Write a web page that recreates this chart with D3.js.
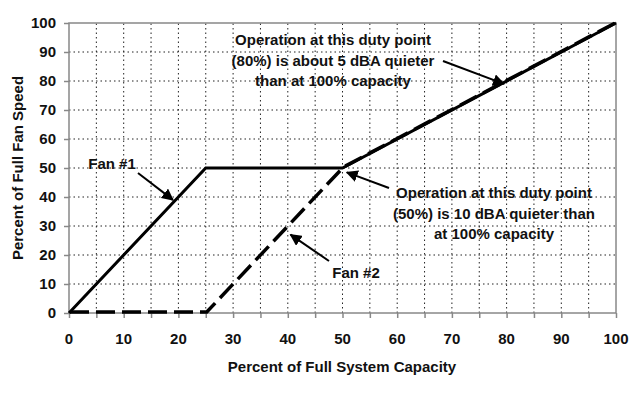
<!DOCTYPE html>
<html>
<head>
<meta charset="utf-8">
<script src="https://d3js.org/d3.v7.min.js"></script>
<style>
body { margin: 0; background: #fff; }
text { font-family: "Liberation Sans", Arial, sans-serif; font-weight: bold; fill: #111; }
.grid line { stroke: #222; stroke-width: 1; stroke-dasharray: 1.5,3; }
.axis path, .axis line { stroke: #888; stroke-width: 1.5; }
</style>
</head>
<body>
<script>
// capacity (%) vs fan speed (%)
var fan1Capacity = [0, 25, 50, 100];
var fan1Speed = [0, 50, 50, 100];
var fan2Capacity = [0, 25, 50, 100];
var fan2Speed = [0, 0, 50, 100];
var xTicks = [0, 10, 20, 30, 40, 50, 60, 70, 80, 90, 100];
var yTicks = [0, 10, 20, 30, 40, 50, 60, 70, 80, 90, 100];

var width = 644, height = 393;
var margin = {left: 69, right: 28, top: 23, bottom: 80};

var svg = d3.select("body").append("svg")
    .attr("width", width)
    .attr("height", height);

var x = d3.scaleLinear().domain([0, 100]).range([margin.left, width - margin.right]);
var y = d3.scaleLinear().domain([0, 100]).range([height - margin.bottom, margin.top]);

// grid
var grid = svg.append("g").attr("class", "grid");
grid.selectAll(".v")
    .data(d3.range(5, 100, 5))
  .enter().append("line")
    .attr("x1", function(d) { return x(d); })
    .attr("x2", function(d) { return x(d); })
    .attr("y1", y(0))
    .attr("y2", y(100));
grid.selectAll(".h")
    .data(yTicks.slice(1, -1))
  .enter().append("line")
    .attr("x1", x(0))
    .attr("x2", x(100))
    .attr("y1", function(d) { return y(d); })
    .attr("y2", function(d) { return y(d); });

// frame
svg.append("rect")
    .attr("x", x(0)).attr("y", y(100))
    .attr("width", x(100) - x(0)).attr("height", y(0) - y(100))
    .attr("fill", "none").attr("stroke", "#888").attr("stroke-width", 1.5);

// axes
svg.append("g")
    .attr("class", "axis")
    .attr("transform", "translate(0," + y(0) + ")")
    .call(d3.axisBottom(x).tickValues(d3.range(0, 101, 5)).tickSize(5).tickFormat(""))
    .call(function(g) { g.select(".domain").remove(); });

svg.append("g")
    .attr("class", "axis")
    .attr("transform", "translate(" + x(0) + ",0)")
    .call(d3.axisLeft(y).tickValues(yTicks).tickSize(5).tickFormat(""))
    .call(function(g) { g.select(".domain").remove(); });

svg.selectAll(".xl")
    .data(xTicks)
  .enter().append("text")
    .attr("x", function(d) { return x(d); })
    .attr("y", 344)
    .attr("text-anchor", "middle")
    .style("font-size", "15px")
    .text(function(d) { return d; });

svg.selectAll(".yl")
    .data(yTicks)
  .enter().append("text")
    .attr("x", 56)
    .attr("y", function(d) { return y(d) + 5; })
    .attr("text-anchor", "end")
    .style("font-size", "15px")
    .text(function(d) { return d; });

svg.append("text")
    .attr("x", 342).attr("y", 372)
    .attr("text-anchor", "middle")
    .style("font-size", "15px")
    .text("Percent of Full System Capacity");

svg.append("text")
    .attr("transform", "translate(23," + ((y(0) + y(100)) / 2) + ") rotate(-90)")
    .attr("text-anchor", "middle")
    .style("font-size", "15px")
    .text("Percent of Full Fan Speed");

// lines
var line = d3.line()
    .x(function(d) { return x(d[0]); })
    .y(function(d) { return y(d[1]); });

svg.append("path")
    .attr("d", line(d3.zip(fan1Capacity, fan1Speed)))
    .attr("fill", "none").attr("stroke", "#000").attr("stroke-width", 3);

svg.append("path")
    .attr("d", line(d3.zip(fan2Capacity, fan2Speed)))
    .attr("fill", "none").attr("stroke", "#000").attr("stroke-width", 3.5)
    .attr("stroke-dasharray", "19,7")
    .attr("transform", "translate(1,-1)");

// annotations
svg.append("defs").append("marker")
    .attr("id", "arrow")
    .attr("viewBox", "0 0 10 10")
    .attr("refX", 9).attr("refY", 5)
    .attr("markerWidth", 6).attr("markerHeight", 6)
    .attr("markerUnits", "strokeWidth")
    .attr("orient", "auto")
  .append("path")
    .attr("d", "M0,0 L10,5 L0,10 z")
    .attr("fill", "#000");

function arrow(x1, y1, x2, y2) {
  svg.append("line")
      .attr("x1", x1).attr("y1", y1).attr("x2", x2).attr("y2", y2)
      .attr("stroke", "#000").attr("stroke-width", 2)
      .attr("marker-end", "url(#arrow)");
}

function label(cx, by, lines) {
  lines.forEach(function(s, i) {
    svg.append("text")
        .attr("x", cx).attr("y", by + i * 20.5)
        .attr("text-anchor", "middle")
        .style("font-size", "15px")
        .text(s);
  });
}

label(112, 169, ["Fan #1"]);
arrow(138, 173, x(19), y(39));

label(356, 278, ["Fan #2"]);
arrow(329, 261, x(40.5), y(27));

label(333, 45, ["Operation at this duty point", "(80%) is about 5 dBA quieter", "than at 100% capacity"]);
arrow(443, 61, x(79.5), y(79));

label(494, 198, ["Operation at this duty point", "(50%) is 10 dBA quieter than", "at 100% capacity"]);
arrow(389, 188, x(50.8), y(48.5));
</script>
</body>
</html>
